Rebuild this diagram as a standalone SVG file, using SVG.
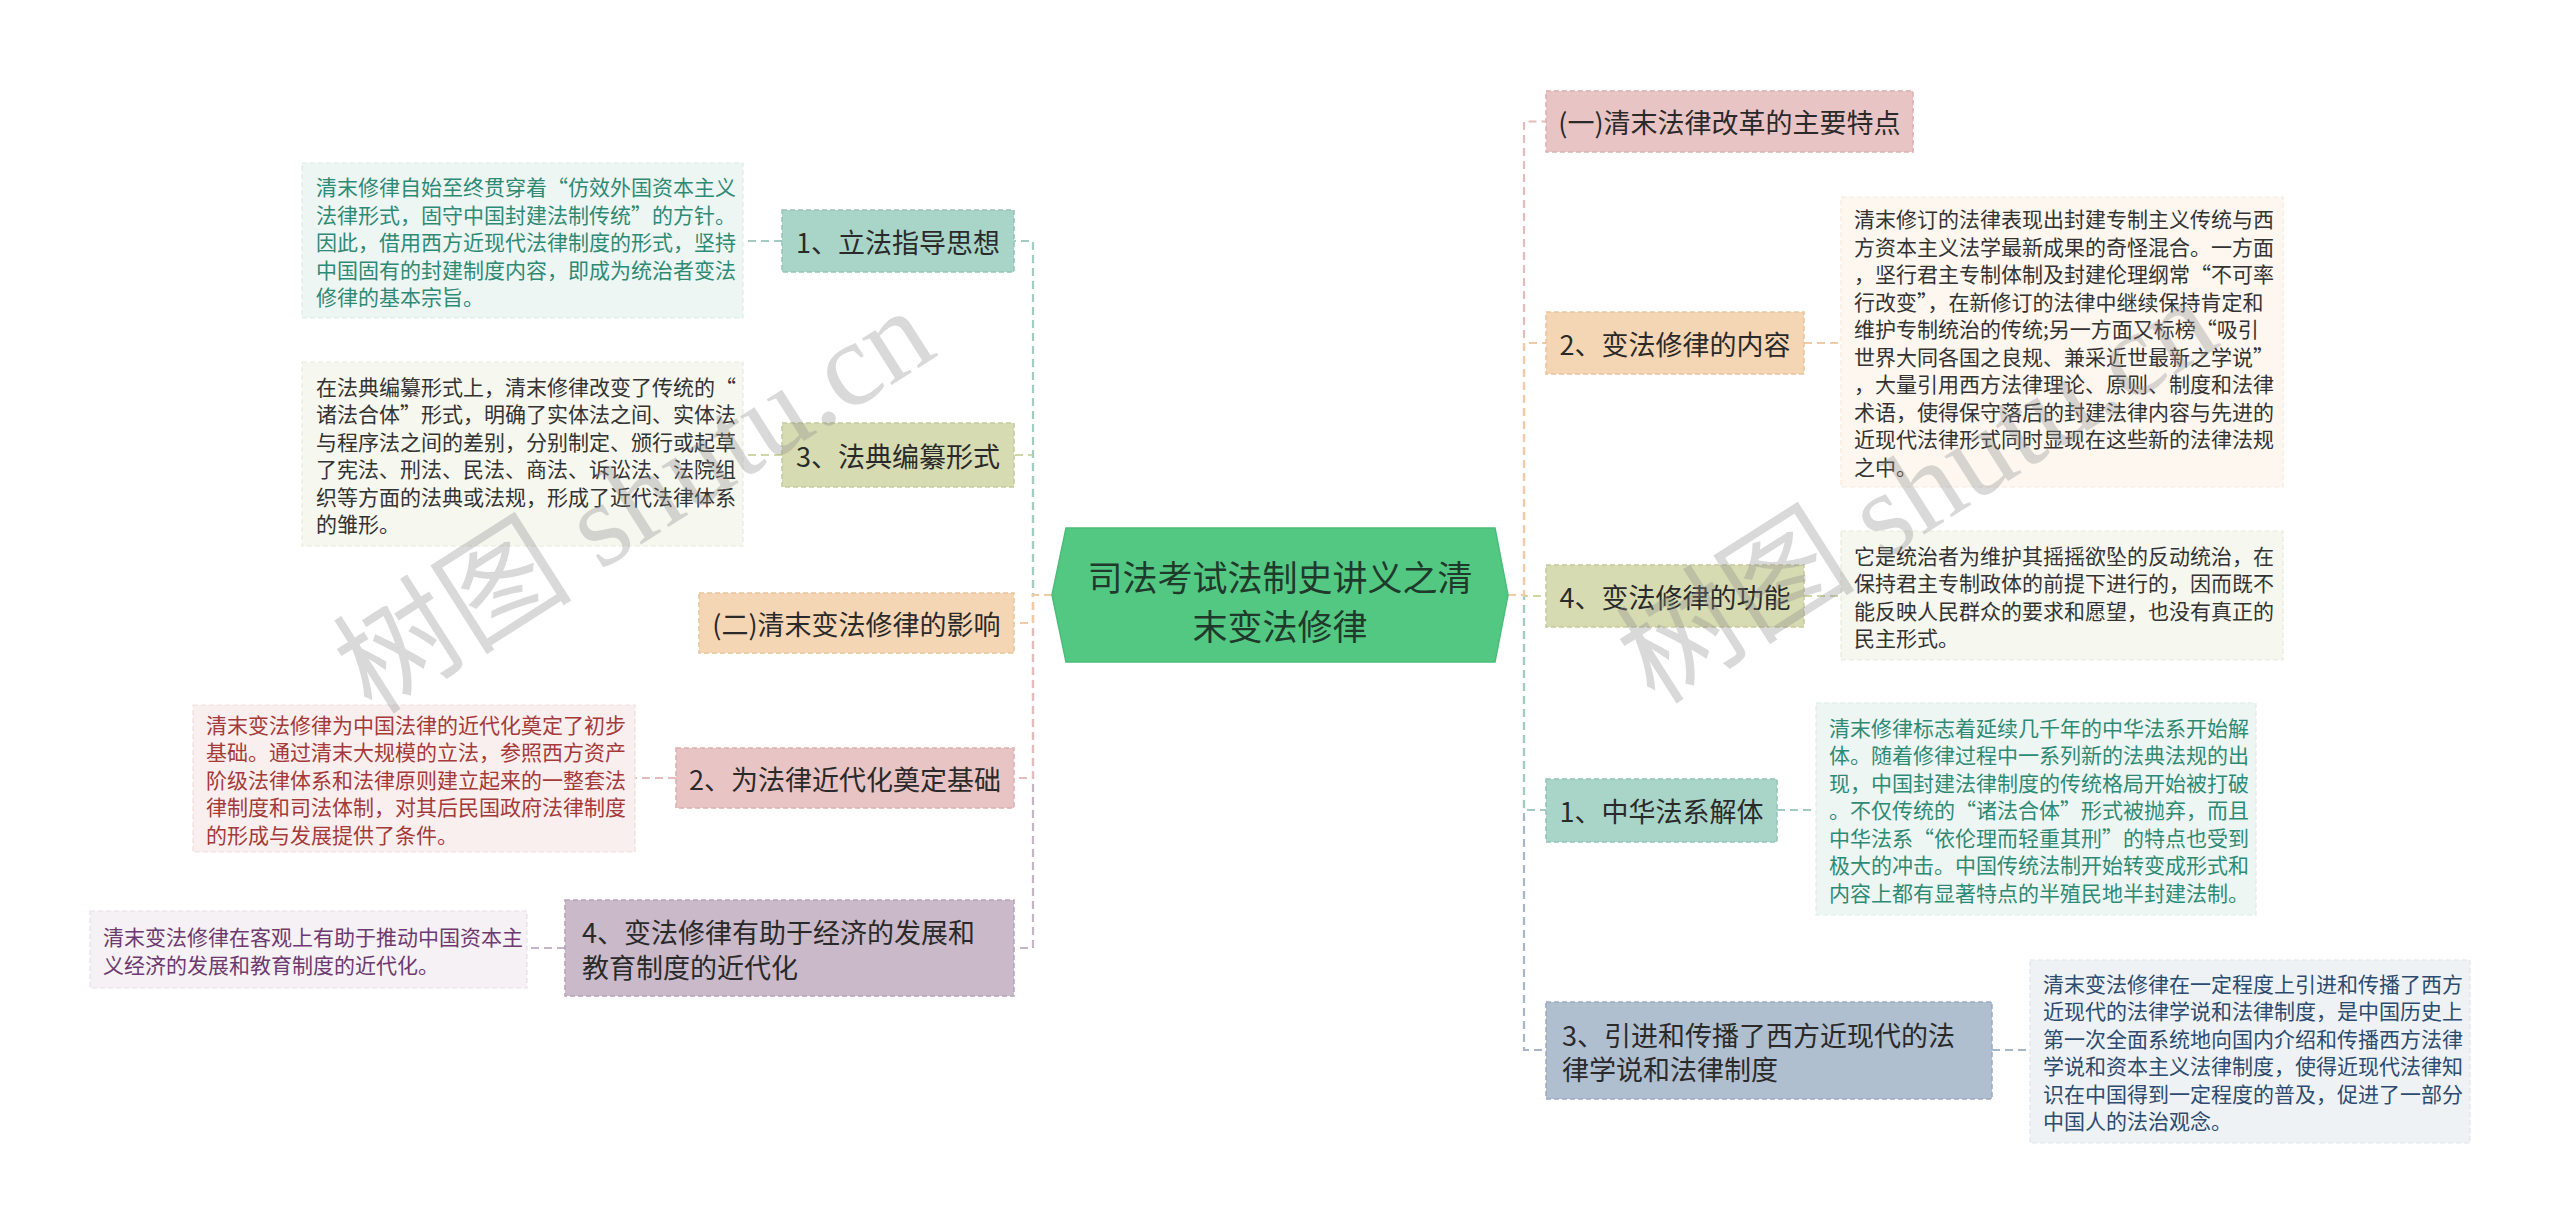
<svg xmlns="http://www.w3.org/2000/svg" width="2560" height="1232" viewBox="0 0 2560 1232">
<style>
  text { font-family: "Noto Sans CJK SC", "Noto Sans", sans-serif; }
  .node { font-size: 27px; fill: #2a2a2a; dominant-baseline: central; }
  .desc { font-size: 21px; dominant-baseline: central; }
  .c { fill: none; stroke-width: 2.2; stroke-dasharray: 8 5; }
  .nb { stroke-width: 1.5; stroke-dasharray: 5 3; }
  .db { stroke-width: 1.2; stroke-dasharray: 5 3; }
  .wm { font-family: "Liberation Serif", "Noto Sans CJK SC", serif; font-size: 120px; fill: #8a8a8a; opacity: 0.32; }
</style>
<rect width="2560" height="1232" fill="#ffffff"/>

<g id="connectors">
  <path class="c" stroke="#cfd6a6" d="M1052,595 H1033 V455 H1014"/>
  <path class="c" stroke="#a2ccc2" d="M1052,595 H1033 V241 H1014"/>
  <path class="c" stroke="#c4b4c4" d="M1052,595 H1033 V948 H1014"/>
  <path class="c" stroke="#e4bcbc" d="M1052,595 H1033 V778 H1014"/>
  <path class="c" stroke="#f0cba5" d="M1052,595 H1033 V623 H1014"/>
  <path class="c" stroke="#a8b7c8" d="M1508,595 H1524 V1050 H1546"/>
  <path class="c" stroke="#a2ccc2" d="M1508,595 H1524 V810 H1546"/>
  <path class="c" stroke="#cfd6a6" d="M1508,595 H1524 V596 H1546"/>
  <path class="c" stroke="#e4bcbc" d="M1508,595 H1524 V121.5 H1546"/>
  <path class="c" stroke="#f0cba5" d="M1508,595 H1524 V343 H1546"/>
  <path class="c" stroke="#a2ccc2" d="M782,241 H743"/>
  <path class="c" stroke="#cfd6a6" d="M782,455 H743"/>
  <path class="c" stroke="#e4bcbc" d="M676,778 H635"/>
  <path class="c" stroke="#c4b4c4" d="M565,948 H527"/>
  <path class="c" stroke="#f0cba5" d="M1804,343 H1841"/>
  <path class="c" stroke="#cfd6a6" d="M1804,596 H1841"/>
  <path class="c" stroke="#a2ccc2" d="M1777,810 H1816"/>
  <path class="c" stroke="#a8b7c8" d="M1992,1050 H2030"/>
</g>

<g id="root">
  <polygon points="1052,595 1066,528 1495,528 1508,595 1495,662 1066,662" fill="#53c883" stroke="#4bbd79" stroke-width="1.5"/>
  <text x="1280" y="575" text-anchor="middle" font-size="35" fill="#1f3a2b" dominant-baseline="central">司法考试法制史讲义之清</text>
  <text x="1280" y="624" text-anchor="middle" font-size="35" fill="#1f3a2b" dominant-baseline="central">末变法修律</text>
</g>

<g id="nodeA">
  <rect class="nb" x="782" y="210" width="232" height="62" fill="#a9d5c9" stroke="#93c4b7"/>
  <text class="node" x="898" y="241" text-anchor="middle">1、立法指导思想</text>
</g>
<g id="descA">
  <rect class="db" x="302" y="163" width="441" height="155" fill="#eef6f4" stroke="#dcece7"/>
  <g fill="#2f8a74">
    <text class="desc" x="316" y="186">清末修律自始至终贯穿着“仿效外国资本主义</text>
    <text class="desc" x="316" y="213.5">法律形式，固守中国封建法制传统”的方针。</text>
    <text class="desc" x="316" y="241">因此，借用西方近现代法律制度的形式，坚持</text>
    <text class="desc" x="316" y="268.5">中国固有的封建制度内容，即成为统治者变法</text>
    <text class="desc" x="316" y="296">修律的基本宗旨。</text>
  </g>
</g>

<g id="nodeB">
  <rect class="nb" x="782" y="423" width="232" height="64" fill="#d6dbb2" stroke="#c5cb9c"/>
  <text class="node" x="898" y="455" text-anchor="middle">3、法典编纂形式</text>
</g>
<g id="descB">
  <rect class="db" x="302" y="362" width="441" height="184" fill="#f6f7ef" stroke="#e8eadb"/>
  <g fill="#333333">
    <text class="desc" x="316" y="385.5">在法典编纂形式上，清末修律改变了传统的“</text>
    <text class="desc" x="316" y="413">诸法合体”形式，明确了实体法之间、实体法</text>
    <text class="desc" x="316" y="440.5">与程序法之间的差别，分别制定、颁行或起草</text>
    <text class="desc" x="316" y="468">了宪法、刑法、民法、商法、诉讼法、法院组</text>
    <text class="desc" x="316" y="495.5">织等方面的法典或法规，形成了近代法律体系</text>
    <text class="desc" x="316" y="523">的雏形。</text>
  </g>
</g>

<g id="nodeC">
  <rect class="nb" x="699" y="593" width="315" height="60" fill="#f5d6b4" stroke="#e8c49c"/>
  <text class="node" x="856.5" y="623" text-anchor="middle">(二)清末变法修律的影响</text>
</g>

<g id="nodeD">
  <rect class="nb" x="676" y="748" width="338" height="60" fill="#e9c4c4" stroke="#dcaeae"/>
  <text class="node" x="845" y="778" text-anchor="middle">2、为法律近代化奠定基础</text>
</g>
<g id="descD">
  <rect class="db" x="193" y="705" width="442" height="147" fill="#f9efef" stroke="#f0dede"/>
  <g fill="#a53a3a">
    <text class="desc" x="206" y="723.5">清末变法修律为中国法律的近代化奠定了初步</text>
    <text class="desc" x="206" y="751">基础。通过清末大规模的立法，参照西方资产</text>
    <text class="desc" x="206" y="778.5">阶级法律体系和法律原则建立起来的一整套法</text>
    <text class="desc" x="206" y="806">律制度和司法体制，对其后民国政府法律制度</text>
    <text class="desc" x="206" y="833.5">的形成与发展提供了条件。</text>
  </g>
</g>

<g id="nodeE">
  <rect class="nb" x="565" y="900" width="449" height="96" fill="#c9b9c9" stroke="#b6a3b6"/>
  <text class="node" x="582" y="931">4、变法修律有助于经济的发展和</text>
  <text class="node" x="582" y="966">教育制度的近代化</text>
</g>
<g id="descE">
  <rect class="db" x="90" y="911" width="437" height="77" fill="#f5f1f5" stroke="#e8e0e8"/>
  <g fill="#6d3a70">
    <text class="desc" x="103" y="936">清末变法修律在客观上有助于推动中国资本主</text>
    <text class="desc" x="103" y="963.5">义经济的发展和教育制度的近代化。</text>
  </g>
</g>

<g id="nodeF">
  <rect class="nb" x="1546" y="91" width="367" height="61" fill="#e9c4c4" stroke="#dcaeae"/>
  <text class="node" x="1729.5" y="121.5" text-anchor="middle">(一)清末法律改革的主要特点</text>
</g>

<g id="nodeG">
  <rect class="nb" x="1546" y="312" width="258" height="62" fill="#f5d6b4" stroke="#e8c49c"/>
  <text class="node" x="1675" y="343" text-anchor="middle">2、变法修律的内容</text>
</g>
<g id="descG">
  <rect class="db" x="1841" y="197" width="442" height="290" fill="#fdf7f0" stroke="#f3e8dc"/>
  <g fill="#333333">
    <text class="desc" x="1854" y="218">清末修订的法律表现出封建专制主义传统与西</text>
    <text class="desc" x="1854" y="245.5">方资本主义法学最新成果的奇怪混合。一方面</text>
    <text class="desc" x="1854" y="273">，坚行君主专制体制及封建伦理纲常“不可率</text>
    <text class="desc" x="1854" y="300.5">行改变”，在新修订的法律中继续保持肯定和</text>
    <text class="desc" x="1854" y="328">维护专制统治的传统;另一方面又标榜“吸引</text>
    <text class="desc" x="1854" y="355.5">世界大同各国之良规、兼采近世最新之学说”</text>
    <text class="desc" x="1854" y="383">，大量引用西方法律理论、原则、制度和法律</text>
    <text class="desc" x="1854" y="410.5">术语，使得保守落后的封建法律内容与先进的</text>
    <text class="desc" x="1854" y="438">近现代法律形式同时显现在这些新的法律法规</text>
    <text class="desc" x="1854" y="465.5">之中。</text>
  </g>
</g>

<g id="nodeH">
  <rect class="nb" x="1546" y="565" width="258" height="62" fill="#d6dbb2" stroke="#c5cb9c"/>
  <text class="node" x="1675" y="596" text-anchor="middle">4、变法修律的功能</text>
</g>
<g id="descH">
  <rect class="db" x="1841" y="531" width="442" height="129" fill="#f6f7ef" stroke="#e8eadb"/>
  <g fill="#333333">
    <text class="desc" x="1854" y="554.5">它是统治者为维护其摇摇欲坠的反动统治，在</text>
    <text class="desc" x="1854" y="582">保持君主专制政体的前提下进行的，因而既不</text>
    <text class="desc" x="1854" y="609.5">能反映人民群众的要求和愿望，也没有真正的</text>
    <text class="desc" x="1854" y="637">民主形式。</text>
  </g>
</g>

<g id="nodeI">
  <rect class="nb" x="1546" y="779" width="231" height="63" fill="#a9d5c9" stroke="#93c4b7"/>
  <text class="node" x="1661.5" y="810" text-anchor="middle">1、中华法系解体</text>
</g>
<g id="descI">
  <rect class="db" x="1816" y="703" width="440" height="212" fill="#eef6f4" stroke="#dcece7"/>
  <g fill="#2f8a74">
    <text class="desc" x="1829" y="726.5">清末修律标志着延续几千年的中华法系开始解</text>
    <text class="desc" x="1829" y="754">体。随着修律过程中一系列新的法典法规的出</text>
    <text class="desc" x="1829" y="781.5">现，中国封建法律制度的传统格局开始被打破</text>
    <text class="desc" x="1829" y="809">。不仅传统的“诸法合体”形式被抛弃，而且</text>
    <text class="desc" x="1829" y="836.5">中华法系“依伦理而轻重其刑”的特点也受到</text>
    <text class="desc" x="1829" y="864">极大的冲击。中国传统法制开始转变成形式和</text>
    <text class="desc" x="1829" y="891.5">内容上都有显著特点的半殖民地半封建法制。</text>
  </g>
</g>

<g id="nodeJ">
  <rect class="nb" x="1546" y="1002" width="446" height="97" fill="#b0bfd0" stroke="#9aabbf"/>
  <text class="node" x="1562" y="1034">3、引进和传播了西方近现代的法</text>
  <text class="node" x="1562" y="1068">律学说和法律制度</text>
</g>
<g id="descJ">
  <rect class="db" x="2030" y="960" width="440" height="183" fill="#eff2f5" stroke="#e0e5eb"/>
  <g fill="#2c4b6f">
    <text class="desc" x="2043" y="982.5">清末变法修律在一定程度上引进和传播了西方</text>
    <text class="desc" x="2043" y="1010">近现代的法律学说和法律制度，是中国历史上</text>
    <text class="desc" x="2043" y="1037.5">第一次全面系统地向国内介绍和传播西方法律</text>
    <text class="desc" x="2043" y="1065">学说和资本主义法律制度，使得近现代法律知</text>
    <text class="desc" x="2043" y="1092.5">识在中国得到一定程度的普及，促进了一部分</text>
    <text class="desc" x="2043" y="1120">中国人的法治观念。</text>
  </g>
</g>

<g id="watermark">
  <text class="wm" transform="translate(372,716) rotate(-32.5)">树图 shutu.cn</text>
  <text class="wm" transform="translate(1655,706) rotate(-32.5)">树图 shutu.cn</text>
</g>
</svg>
